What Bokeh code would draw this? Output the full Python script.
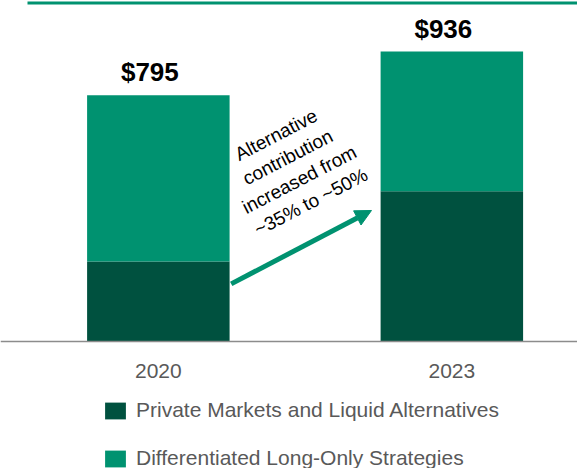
from bokeh.plotting import figure
from bokeh.models import (Range1d, FixedTicker, Arrow, NormalHead, Legend, LegendItem,
                          ColumnDataSource)
from bokeh.core.properties import value
from bokeh.embed import file_html
from bokeh.resources import INLINE

# ---- data ----
categories = ["2020", "2023"]
alternatives = [258, 485]          # Private Markets and Liquid Alternatives
long_only = [537, 451]             # Differentiated Long-Only Strategies
totals = [795, 936]
total_labels = ["$795", "$936"]
series_names = ["Private Markets and Liquid Alternatives",
                "Differentiated Long-Only Strategies"]
annotation_text = "Alternative\ncontribution\nincreased from\n~35% to ~50%"

DARK = "#00513F"
LIGHT = "#009270"
FONT = "Liberation Sans"

Y0, Y1 = -410, 1101
X0, X1 = -0.5378, 1.4281

xs = list(range(len(categories)))
src = ColumnDataSource(dict(x=xs, alt=alternatives, lo=long_only,
                            total=totals, lab=total_labels))

p = figure(width=577, height=468, output_backend="svg", toolbar_location=None,
           x_range=Range1d(X0, X1), y_range=Range1d(Y0, Y1),
           y_axis_location=None, min_border_left=0, min_border_right=0,
           min_border_top=0, min_border_bottom=0)
p.outline_line_color = None
p.grid.visible = False
p.background_fill_color = "white"
p.border_fill_color = "white"

r = p.vbar_stack(["alt", "lo"], x="x", width=0.4855, color=[DARK, LIGHT],
                 line_color=None, source=src)

# total labels
p.text(x="x", y="total", text="lab", source=src, text_align="center",
       text_baseline="alphabetic", x_offset=-8.5, y_offset=-23,
       text_font=value(FONT), text_font_style="bold", text_font_size="26px",
       text_color="black")

# top decorative line
p.segment(x0=[-0.4458], y0=[1092.6], x1=[X1], y1=[1092.6],
          line_color=LIGHT, line_width=3)

# arrow
p.add_layout(Arrow(end=NormalHead(size=16, fill_color=LIGHT, line_color=LIGHT),
                   x_start=0.2482, y_start=186, x_end=0.7262, y_end=423,
                   line_color=LIGHT, line_width=5))

p.text(x=[0.4605], y=[559], text=[annotation_text], angle=0.478,
       text_align="center", text_baseline="middle", text_font=value(FONT),
       text_font_size="19px", text_color="black", text_line_height=1.2)

# x axis placed at the zero line
ax = p.xaxis[0]
ax.fixed_location = 0
ax.ticker = FixedTicker(ticks=xs)
ax.major_label_overrides = {i: c for i, c in zip(xs, categories)}
ax.major_tick_line_color = None
ax.minor_tick_line_color = None
ax.axis_line_color = "#8C8C8C"
ax.axis_line_width = 1.5
ax.major_label_text_font = FONT
ax.major_label_text_font_size = "21px"
ax.major_label_text_color = "#595959"
ax.major_label_standoff = 16

legend = Legend(items=[LegendItem(label=series_names[0], renderers=[r[0]]),
                       LegendItem(label=series_names[1], renderers=[r[1]])],
                location=(102, -2), orientation="vertical",
                glyph_width=26, glyph_height=21, label_height=21,
                label_standoff=8, spacing=24, padding=0, margin=0,
                border_line_color=None, background_fill_alpha=0,
                label_text_font=FONT, label_text_font_size="21px",
                label_text_color="#595959")
p.add_layout(legend, "center")

open("out.html", "w").write(file_html(p, INLINE))
